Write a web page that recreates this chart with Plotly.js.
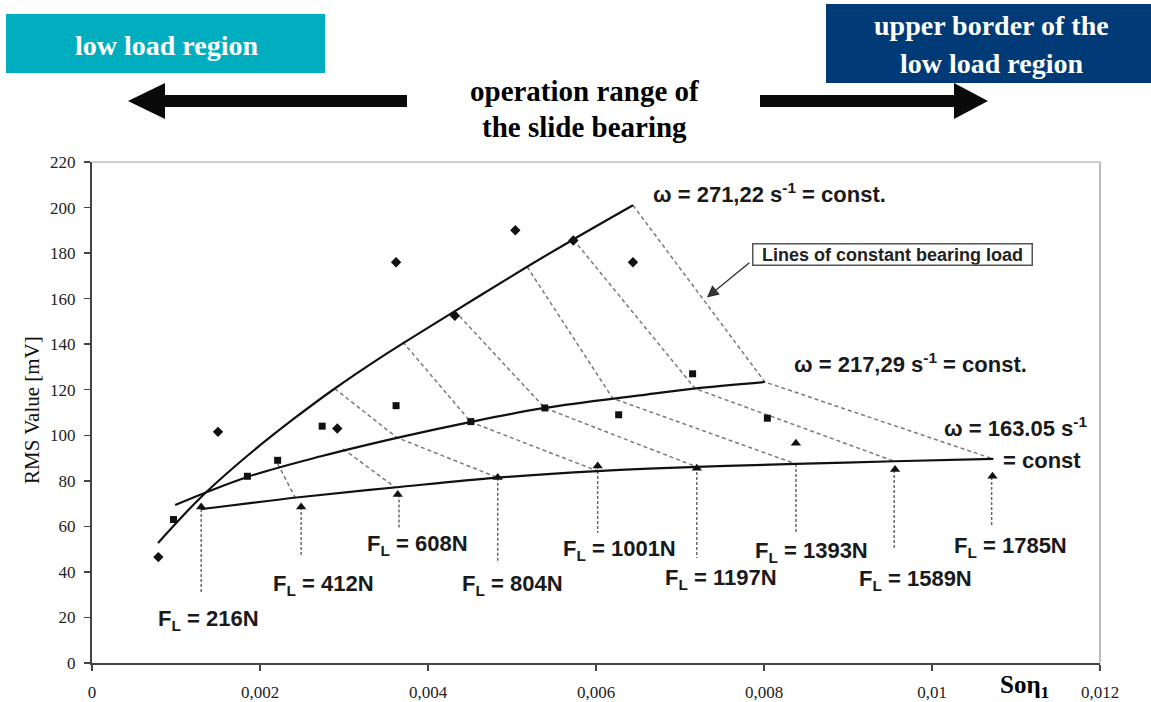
<!DOCTYPE html>
<html>
<head>
<meta charset="utf-8">
<script src="https://cdn.plot.ly/plotly-3.0.1.min.js"></script>
<style>html,body{margin:0;padding:0;background:#fff;}#chart{width:1151px;height:702px;}</style>
</head>
<body>
<div id="chart"></div>
<script>
// ---------- data ----------
const xTickVals = [0, 0.002, 0.004, 0.006, 0.008, 0.01, 0.012];
const xTickText = ["0", "0,002", "0,004", "0,006", "0,008", "0,01", "0,012"];
const yTickVals = [0, 20, 40, 60, 80, 100, 120, 140, 160, 180, 200, 220];

// measured points, omega = 271.22 1/s (diamonds)
const w271X = [0.00079, 0.0015, 0.00292, 0.00362, 0.00432, 0.00504, 0.00573, 0.00644];
const w271Y = [46.5, 101.5, 103, 176, 152.5, 190, 185.5, 176];
// measured points, omega = 217.29 1/s (squares)
const w217X = [0.00097, 0.00185, 0.00221, 0.00274, 0.00362, 0.00451, 0.00539, 0.00627, 0.00715, 0.00804];
const w217Y = [63, 82, 89, 104, 113, 106, 112, 109, 127, 107.5];
// measured points, omega = 163.05 1/s (triangles)
const w163X = [0.0013, 0.00249, 0.00364, 0.00483, 0.00602, 0.0072, 0.00838, 0.00956, 0.01072];
const w163Y = [68.5, 68.5, 74, 81.5, 86.5, 85.5, 96.5, 85, 82];

// fitted curves
const fit271X = [0.000786, 0.0013, 0.00185, 0.00238, 0.00287, 0.00343, 0.00432, 0.00518, 0.00573, 0.00644];
const fit271Y = [52.7, 72.9, 91, 106.6, 120, 134, 154.5, 174, 186, 201];
const fit217X = [0.00099, 0.00185, 0.00275, 0.00367, 0.0045, 0.00539, 0.00652, 0.00724, 0.00801];
const fit217Y = [69.4, 81.7, 91, 99.2, 105.8, 112, 117.5, 120.8, 123.4];
const fit163X = [0.0013, 0.00249, 0.00366, 0.00483, 0.00602, 0.0072, 0.00838, 0.00955, 0.01073];
const fit163Y = [67.6, 72.9, 77.3, 81.4, 84.3, 86.1, 87.4, 88.6, 89.6];

// lines of constant bearing load
const loads = ["216N", "412N", "608N", "804N", "1001N", "1197N", "1393N", "1589N", "1785N"];
const loadUpX = [null, null, null, 0.00289, 0.0037, 0.00432, 0.00518, 0.00573, 0.00644];
const loadUpY = [null, null, null, 120.5, 141, 154.5, 174, 186, 201];
const loadMidX = [null, 0.00221, 0.00299, 0.00363, 0.00451, 0.00539, 0.0062, 0.00718, 0.00801];
const loadMidY = [null, 87.5, 94, 99, 105.8, 112, 116.2, 120.5, 123.4];
const loadLowX = [0.0013, 0.00242, 0.00361, 0.00483, 0.00602, 0.0072, 0.00838, 0.00955, 0.01073];
const loadLowY = [67.6, 72.6, 77.1, 81.4, 84.3, 86.1, 87.4, 88.6, 89.6];
// vertical pointer lines under each load
const pointerX = [0.0013, 0.00249, 0.003655, 0.00483, 0.00602, 0.0072, 0.00838, 0.00955, 0.01071];
const pointerTop = [67.6, 68.5, 74, 81.4, 86.5, 86.1, 87.4, 84.8, 81.7];
const pointerBottom = [31.2, 46.5, 59.3, 43.9, 57.1, 46.1, 57.1, 50.5, 59.7];

// ---------- build traces ----------
const dashX = [], dashY = [];
loads.forEach((l, i) => {
  if (loadUpX[i] !== null) { dashX.push(loadUpX[i]); dashY.push(loadUpY[i]); }
  if (loadMidX[i] !== null) { dashX.push(loadMidX[i]); dashY.push(loadMidY[i]); }
  if (loadUpX[i] !== null || loadMidX[i] !== null) { dashX.push(loadLowX[i]); dashY.push(loadLowY[i]); }
  dashX.push(null); dashY.push(null);
});
const vX = [], vY = [];
pointerX.forEach((x, i) => { vX.push(x, x, null); vY.push(pointerTop[i], pointerBottom[i], null); });

const traces = [
  {x: dashX, y: dashY, mode: 'lines', line: {color: '#7a7a7a', width: 1.5, dash: '4px,3px'}, hoverinfo: 'skip', connectgaps: false},
  {x: vX, y: vY, mode: 'lines', line: {color: '#6a6a6a', width: 1.5, dash: '3px,2px'}, hoverinfo: 'skip', connectgaps: false},
  {x: fit271X, y: fit271Y, mode: 'lines', line: {color: '#111', width: 2.2, shape: 'spline', smoothing: 1}},
  {x: fit217X, y: fit217Y, mode: 'lines', line: {color: '#111', width: 2.2, shape: 'spline', smoothing: 1}},
  {x: fit163X, y: fit163Y, mode: 'lines', line: {color: '#111', width: 2.2, shape: 'spline', smoothing: 1}},
  {x: w271X, y: w271Y, mode: 'markers', marker: {symbol: 'diamond', size: 8, color: '#111'}},
  {x: w217X, y: w217Y, mode: 'markers', marker: {symbol: 'square', size: 7, color: '#111'}},
  {x: w163X, y: w163Y, mode: 'markers', marker: {symbol: 'triangle-up', size: 9, color: '#111'}}
];

// ---------- decorations (pixel helpers, plot area 92..1100 x 162..663) ----------
const L = 92, T = 162, W = 1008, H = 501;
const px = v => (v - L) / W;
const py = v => (T + H - v) / H;

const serif = "'Liberation Serif', 'Times New Roman', serif";
const sans = "'Liberation Sans', Arial, sans-serif";

const shapes = [
  {type: 'line', xref: 'paper', yref: 'paper', x0: 0, x1: 1, y0: 1, y1: 1, line: {color: '#cfcfcf', width: 2}},
  {type: 'line', xref: 'paper', yref: 'paper', x0: 1, x1: 1, y0: 0, y1: 1, line: {color: '#bdbdbd', width: 2}},
  {type: 'rect', xref: 'paper', yref: 'paper', x0: px(6), x1: px(325), y0: py(73), y1: py(14), fillcolor: '#00AEBF', line: {width: 0}, layer: 'above'},
  {type: 'rect', xref: 'paper', yref: 'paper', x0: px(826), x1: px(1151), y0: py(83), y1: py(4), fillcolor: '#003B78', line: {width: 0}, layer: 'above'},
  {type: 'path', xref: 'paper', yref: 'paper', fillcolor: '#0a0a0a', line: {width: 0},
   path: `M ${px(128)} ${py(101)} L ${px(165)} ${py(83)} L ${px(165)} ${py(95)} L ${px(407)} ${py(95)} L ${px(407)} ${py(107)} L ${px(165)} ${py(107)} L ${px(165)} ${py(119)} Z`},
  {type: 'path', xref: 'paper', yref: 'paper', fillcolor: '#0a0a0a', line: {width: 0},
   path: `M ${px(988)} ${py(101)} L ${px(954)} ${py(83)} L ${px(954)} ${py(95)} L ${px(760)} ${py(95)} L ${px(760)} ${py(107)} L ${px(954)} ${py(107)} L ${px(954)} ${py(119)} Z`}
];

const annotations = [];
const pa = (text, x, y, font, extra) => annotations.push(Object.assign({text, xref: 'paper', yref: 'paper', x: px(x), y: py(y), showarrow: false, xanchor: 'center', yanchor: 'middle', font}, extra || {}));

pa('<b>low load region</b>', 166, 45, {family: serif, size: 28, color: '#fff'});
pa('<b>upper border of the</b>', 991, 25, {family: serif, size: 28, color: '#fff'});
pa('<b>low load region</b>', 991, 63, {family: serif, size: 28, color: '#fff'});
pa('<b>operation range of</b>', 584, 91, {family: serif, size: 29, color: '#000'});
pa('<b>the slide bearing</b>', 584, 127, {family: serif, size: 29, color: '#000'});
pa('<b>Soη<sub>1</sub></b>', 1024, 686, {family: serif, size: 25, color: '#000'});
pa('RMS Value [mV]', 32, 410, {family: serif, size: 21, color: '#111'}, {textangle: -90});

const da = (text, x, y, font, extra) => annotations.push(Object.assign({text, xref: 'x', yref: 'y', x, y, showarrow: false, xanchor: 'center', yanchor: 'middle', font}, extra || {}));
const labFont = {family: sans, size: 22, color: '#1a1a1a'};
da('<b>ω = 271,22 s<sup>-1</sup> = const.</b>', 0.00807, 206.4, labFont);
da('<b>ω = 217,29 s<sup>-1</sup> = const.</b>', 0.00974, 131.7, labFont);
da('<b>ω = 163.05 s<sup>-1</sup></b>', 0.01099, 103.6, labFont);
da('<b>= const</b>', 0.01131, 89.1, labFont);

const loadLabelPos = [
  [0.001381, 18.9], [0.00275, 34.3], [0.003869, 51.8], [0.0050, 34.3], [0.006274, 49.6],
  [0.007488, 36.9], [0.008571, 48.7], [0.009798, 36.4], [0.010929, 50.9]
];
loads.forEach((l, i) => da('<b>F<sub>L</sub> = ' + l + '</b>', loadLabelPos[i][0], loadLabelPos[i][1], labFont));

pa('<b>Lines of constant bearing load</b>', 892, 254, {family: sans, size: 18, color: '#222'},
   {bordercolor: '#555', borderwidth: 1.5, borderpad: 0, bgcolor: '#fff', width: 278, height: 20});
annotations.push({xref: 'x', yref: 'y', x: 0.00732, y: 160.5, ax: 44, ay: -36, text: '', showarrow: true,
  arrowhead: 2, arrowsize: 1.7, arrowwidth: 1.4, arrowcolor: '#333'});

const layout = {
  width: 1151, height: 702,
  margin: {l: L, r: 1151 - L - W, t: T, b: 702 - T - H, pad: 0},
  paper_bgcolor: '#fff', plot_bgcolor: '#fff',
  showlegend: false,
  font: {family: serif, color: '#222'},
  xaxis: {range: [0, 0.012], tickvals: xTickVals, ticktext: xTickText, ticks: 'outside', ticklen: 6, tickwidth: 1.5, tickcolor: '#444',
          showgrid: false, zeroline: false, showline: true, linecolor: '#444', linewidth: 2,
          tickfont: {family: serif, size: 17, color: '#222'}, ticklabelstandoff: 7, fixedrange: true},
  yaxis: {range: [0, 220], tickvals: yTickVals, ticks: 'outside', ticklen: 6, tickwidth: 1.5, tickcolor: '#444',
          showgrid: false, zeroline: false, showline: true, linecolor: '#444', linewidth: 2,
          tickfont: {family: serif, size: 17, color: '#222'}, ticklabelstandoff: 5, fixedrange: true},
  shapes, annotations
};

Plotly.newPlot('chart', traces, layout, {displayModeBar: false, staticPlot: true});
</script>
</body>
</html>
